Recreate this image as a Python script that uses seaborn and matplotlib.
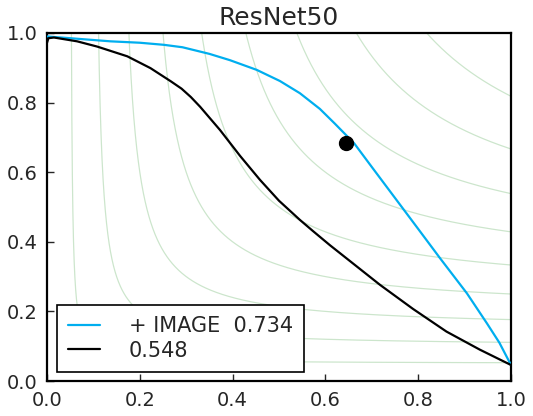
import numpy as np
import pandas as pd
import seaborn as sns
import matplotlib.pyplot as plt

# curve values (recall, precision)
blue_r = [0.0, 0.05, 0.137, 0.2, 0.252, 0.292, 0.35, 0.394, 0.452, 0.502, 0.545, 0.588,
          0.62, 0.662, 0.7, 0.75, 0.8, 0.847, 0.905, 0.948, 0.975, 1.0]
blue_p = [0.99, 0.985, 0.976, 0.972, 0.966, 0.959, 0.94, 0.922, 0.894, 0.862, 0.827, 0.782,
          0.740, 0.683, 0.615, 0.526, 0.437, 0.353, 0.252, 0.166, 0.11, 0.046]
black_r = [0.0, 0.003, 0.015, 0.065, 0.108, 0.173, 0.223, 0.267, 0.29, 0.31, 0.33, 0.373, 0.416,
           0.459, 0.50, 0.545, 0.574, 0.61, 0.646, 0.718, 0.789, 0.861, 0.933, 1.0]
black_p = [0.972, 0.985, 0.987, 0.976, 0.961, 0.933, 0.899, 0.861, 0.84, 0.816, 0.788, 0.721, 0.647,
           0.578, 0.518, 0.463, 0.430, 0.39, 0.352, 0.276, 0.207, 0.142, 0.09, 0.046]
labels = ['+ IMAGE  0.734', '0.548']
ods_point = (0.644, 0.683)
iso_f = [0.1, 0.2, 0.3, 0.4, 0.5, 0.6, 0.7, 0.8, 0.9]

sns.set_style('white')
plt.rcParams['font.family'] = ['DejaVu Sans']

fig = plt.figure(figsize=(5.33, 4.16), dpi=100)
ax = fig.add_axes([0.0882, 0.0841, 0.8705, 0.8366])

# iso-F contours
r = np.linspace(0.01, 1.0, 20000)
for f in iso_f:
    d = 2 * r - f
    ok = d > 0
    p = np.full_like(r, np.nan)
    p[ok] = f * r[ok] / d[ok]
    p[(p < 0) | (p > 1.02)] = np.nan
    ax.plot(r, p, color='green', alpha=0.2, lw=0.9, zorder=1)

df_blue = pd.DataFrame({'Recall': blue_r, 'Precision': blue_p})
df_black = pd.DataFrame({'Recall': black_r, 'Precision': black_p})
sns.lineplot(data=df_blue, x='Recall', y='Precision', color='#00AEEF', lw=1.6,
             sort=False, ax=ax, label=labels[0], zorder=3)
sns.lineplot(data=df_black, x='Recall', y='Precision', color='black', lw=1.6,
             sort=False, ax=ax, label=labels[1], zorder=3)
ax.plot([ods_point[0]], [ods_point[1]], 'o', color='black', markersize=10, zorder=4)

ax.set_xlim(0, 1)
ax.set_ylim(0, 1)
ax.set_xlabel('')
ax.set_ylabel('')
ax.set_xticks([0, 0.2, 0.4, 0.6, 0.8, 1.0])
ax.set_yticks([0, 0.2, 0.4, 0.6, 0.8, 1.0])
ax.tick_params(direction='in', length=5, width=1, labelsize=14, pad=7,
               bottom=True, left=True, top=False, right=False)
for s in ax.spines.values():
    s.set_linewidth(1.6)
    s.set_color('black')
ax.set_title('ResNet50', fontsize=18, pad=6)

leg = ax.legend(loc='lower left', fontsize=15, frameon=True, fancybox=False,
                handlelength=1.5, handletextpad=1.4, borderpad=0.55, labelspacing=0.2,
                borderaxespad=0, bbox_to_anchor=(10 / 464, 9 / 348))
leg.get_frame().set_edgecolor('black')
leg.get_frame().set_linewidth(1.2)
leg.get_frame().set_alpha(1)

fig.savefig('out.png', dpi=100)
